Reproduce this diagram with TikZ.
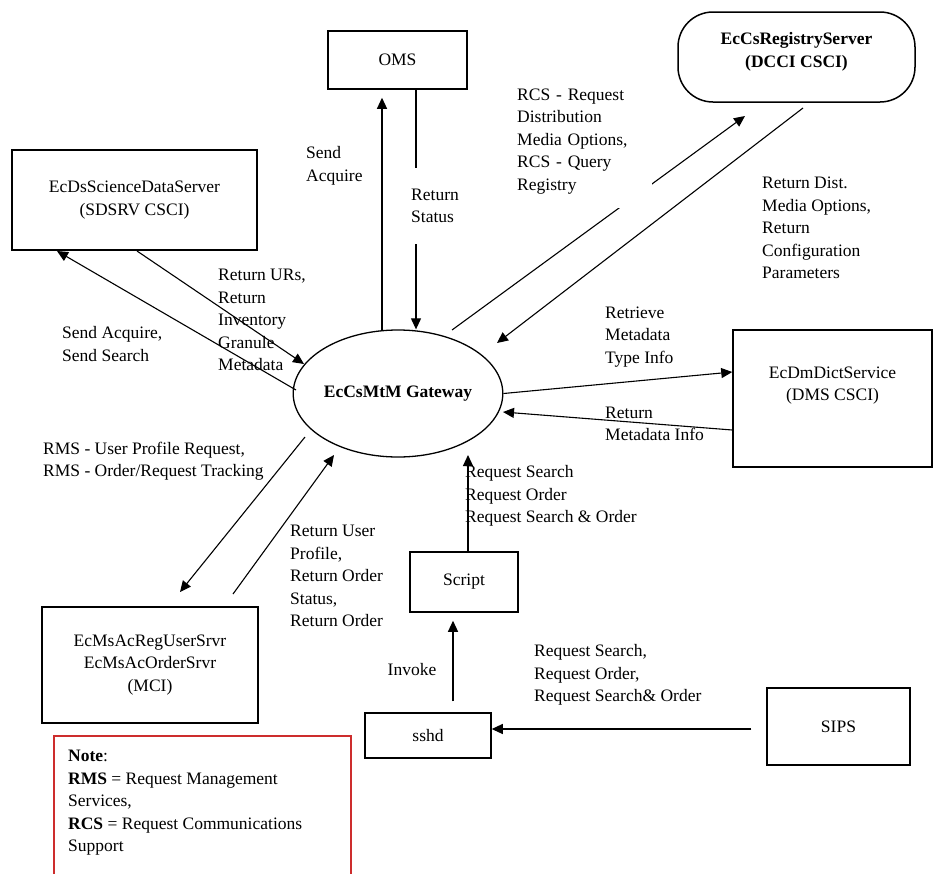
\documentclass[tikz,border=0pt]{standalone}
\usepackage{fontspec}
\setmainfont{Liberation Serif}
\usetikzlibrary{arrows.meta,shapes.geometric,calc}
\definecolor{notered}{RGB}{205,45,45}
\begin{document}
\begin{tikzpicture}[x=1pt,y=-1pt,
  txt/.style={font=\fontsize{17.5}{22.5}\selectfont},
  btxt/.style={font=\bfseries\fontsize{17.5}{22.5}\selectfont},
  box/.style={draw,line width=1.5pt,inner sep=0pt,align=center,txt},
  lbl/.style={inner sep=0pt,align=left,anchor=west,txt},
  arr/.style={line width=1.1pt,-{Triangle[length=11pt,width=10pt]}}]
\fill[white] (0,0) rectangle (934,873);
\useasboundingbox (0,0) rectangle (934,873);

% nodes
\node[box,minimum width=139pt,minimum height=58pt] (oms) at (397.5,60) {OMS};
\node[box,rounded corners=35pt,minimum width=237pt,minimum height=90pt,btxt] (reg) at (796.5,57) {EcCsRegistryServer\\(DCCI CSCI)\\[-8pt]};
\node[box,minimum width=245pt,minimum height=100pt] (sds) at (134.5,200) {EcDsScienceDataServer\\(SDSRV CSCI)};
\node[draw,ellipse,line width=1.3pt,minimum width=204pt,minimum height=127pt,inner sep=0pt,btxt] (gw) at (398,393.5) {EcCsMtM Gateway};
\node[box,minimum width=199pt,minimum height=137pt] (dms) at (832.5,398.5) {EcDmDictService\\(DMS CSCI)\\\strut};
\node[box,minimum width=216pt,minimum height=116pt] (mci) at (150,665) {EcMsAcRegUserSrvr\\EcMsAcOrderSrvr\\(MCI)};
\node[box,minimum width=108pt,minimum height=60pt] (script) at (464,582) {Script};
\node[box,minimum width=126pt,minimum height=45pt] (sshd) at (428,735.5) {sshd};
\node[box,minimum width=143pt,minimum height=77pt] (sips) at (838.5,726.5) {SIPS};
\node[draw=notered,line width=1.8pt,minimum width=297pt,minimum height=150pt,anchor=north west,inner sep=0pt] (note) at (53,735) {};

% connector end points
\coordinate (gwA) at (382,331);
\coordinate (rsx) at (416,0);
\coordinate (gwB) at (452,330);
\coordinate (regA) at (745,116);
\coordinate (regB) at (803,108);
\coordinate (gwC) at (497,343);
\coordinate (gwD) at (296,390);
\coordinate (sdsA) at (57,251);
\coordinate (sdsB) at (137,251);
\coordinate (gwE) at (304,364);
\coordinate (gwF) at (503,412);
\coordinate (gwG) at (305,437);
\coordinate (mciA) at (180,592);
\coordinate (mciB) at (233,594);
\coordinate (gwH) at (334,455);
\coordinate (scrx) at (468,0);
\coordinate (gwI) at (468,455);
\coordinate (shx) at (453,0);

% connectors
\draw[arr,shorten >=8pt] (gwA) -- (gwA |- oms.south);
\draw[arr] (oms.south -| rsx) -- (gw.north -| rsx);
\draw[arr] (gwB) -- (regA);
\draw[arr] (regB) -- (gwC);
\draw[arr] (gwD) -- (sdsA);
\draw[arr] (sdsB) -- (gwE);
\draw[arr] (gw.east) -- ($(dms.west)+(0,-26.5)$);
\draw[arr] ($(dms.west)+(0,31.5)$) -- (gwF);
\draw[arr] (gwG) -- (mciA);
\draw[arr] (mciB) -- (gwH);
\draw[arr] (script.north -| scrx) -- (gwI);
\draw[arr,shorten <=11pt,shorten >=8pt] (sshd.north -| shx) -- (script.south -| shx);
\draw[arr,shorten <=15pt] ($(sips.west)+(0,2.5)$) -- ($(sshd.east)+(0,-6.5)$);

% labels
\node[lbl] (l1) at (306,166) {Send\\Acquire};
\node[lbl,fill=white,inner xsep=1pt,inner ysep=21pt] (l2) at (410,206) {Return\\Status};
\node[txt,fill=white,inner sep=0pt,text width=135pt,minimum height=134pt,anchor=north west,align=left] (l3) at (517,74) {RCS - Request\\Distribution\\Media Options,\\RCS - Query\\Registry};
\node[lbl] (l4) at (762,228) {Return Dist.\\Media Options,\\Return\\Configuration\\Parameters};
\node[lbl] (l5) at (605,337) {Retrieve\\Metadata\\Type Info};
\node[lbl] (l6) at (605,424) {Return\\Metadata Info};
\node[lbl] (l7) at (62,344) {Send Acquire,\\Send Search};
\node[lbl] (l8) at (218,320) {Return URs,\\Return\\Inventory\\Granule\\Metadata};
\node[lbl] (l9) at (43,461) {RMS - User Profile Request,\\RMS - Order/Request Tracking};
\node[lbl] (l10) at (290,576) {Return User\\Profile,\\Return Order\\Status,\\Return Order};
\node[lbl] (l11) at (465,496) {Request Search\\Request Order\\Request Search \& Order};
\node[txt,inner sep=0pt] (l12) at (412,670) {Invoke};
\node[lbl] (l13) at (534,675) {Request Search,\\Request Order,\\Request Search\& Order};
\node[lbl] (notetxt) at (68,803) {\textbf{Note}:\\\textbf{RMS} = Request Management\\Services,\\\textbf{RCS} = Request Communications\\Support};
\end{tikzpicture}
\end{document}
